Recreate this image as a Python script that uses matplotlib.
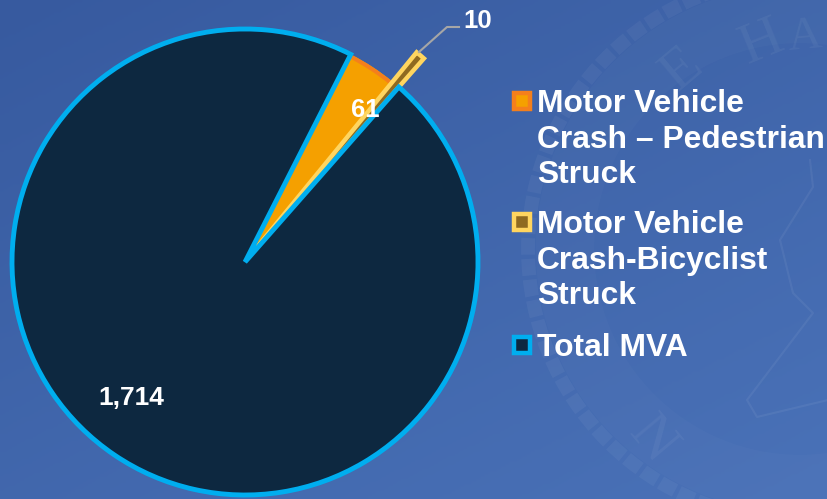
import numpy as np
from matplotlib import pyplot as plt
from matplotlib.colors import LinearSegmentedColormap
from matplotlib.patches import Circle, Rectangle

plt.rcParams["font.family"] = ["Liberation Sans", "DejaVu Sans"]

labels = ["Motor Vehicle\nCrash – Pedestrian\nStruck", "Motor Vehicle\nCrash-Bicyclist\nStruck", "Total MVA"]
values = [61, 10, 1714]
value_labels = ["61", "10", "1,714"]
fills = ["#f5a000", "#8f6a20", "#0d2840"]
edges = ["#f47f1c", "#ffd55f", "#00aeef"]


def main():
    fig = plt.figure(figsize=(8.28, 4.99), dpi=100)
    ax = fig.add_axes([0, 0, 1, 1])

    # background gradient, darker in the top left
    yy, xx = np.mgrid[0:1:200j, 0:1:200j]
    cmap = LinearSegmentedColormap.from_list("bg", ["#375a9f", "#4a72b8"])
    ax.imshow(0.45 * xx + 0.55 * yy, cmap=cmap, extent=(0, 828, 0, 499), origin="upper",
              aspect="auto", vmin=0, vmax=1, zorder=0)

    # faint seal behind the legend
    ax.add_patch(Circle((800, 250), 272, fill=False, ec="white", alpha=0.045, lw=10,
                        linestyle=(0, (1.2, 0.3)), zorder=1))
    ax.add_patch(Circle((800, 250), 235, fill=False, ec="white", alpha=0.02, lw=42, zorder=1))
    seal_font = {"family": "Liberation Serif", "color": "white", "alpha": 0.05,
                 "ha": "center", "va": "center", "zorder": 1}
    ax.text(682, 429, "E", rotation=40, fontsize=42, **seal_font)
    ax.text(762, 456, "H", rotation=22, fontsize=42, **seal_font)
    ax.text(805, 462, "A", rotation=5, fontsize=34, **seal_font)
    ax.text(652, 59, "N", rotation=-50, fontsize=42, **seal_font)
    ax.plot([810, 813, 780, 793, 813, 747, 757, 828], [339, 312, 259, 206, 186, 99, 82, 99],
            color="white", alpha=0.06, lw=1.5, zorder=1)

    wedges, _ = ax.pie(values, colors=fills, startangle=63, counterclock=False,
                       center=(245, 237), radius=233, frame=True,
                       wedgeprops={"linewidth": 3.5, "joinstyle": "miter"})
    for wedge, edge in zip(wedges, edges):
        wedge.set_edgecolor(edge)
    wedges[0].set_linewidth(0)
    wedges[0].set_zorder(2)
    # orange only shows on the outer rim
    rim = ax.pie([values[0], sum(values) - values[0]], colors=["none", "none"], startangle=63,
                 counterclock=False, center=(245, 237), radius=233, frame=True,
                 wedgeprops={"linewidth": 0})[0][0]
    rim.set_width(4)
    rim.set_facecolor(edges[0])
    rim.set_zorder(2.5)
    # bicyclist slice sticks out past the pie, under the total slice
    wedges[1].set_radius(271)
    wedges[1].set_linewidth(3.2)
    wedges[1].set_zorder(3)
    wedges[2].set_zorder(4)

    ax.set_xlim(0, 828)
    ax.set_ylim(0, 499)
    ax.set_aspect("auto")
    ax.axis("off")

    ax.plot([419, 447, 459], [447, 472, 472], color="#a6a6a6", lw=1.5, zorder=3)
    ax.text(365, 389, value_labels[0], color="white", fontsize=18.5, fontweight="bold",
            ha="center", va="center", zorder=6)
    ax.text(478, 478, value_labels[1], color="white", fontsize=18.5, fontweight="bold",
            ha="center", va="center", zorder=6)
    ax.text(131, 101, value_labels[2], color="white", fontsize=19, fontweight="bold",
            ha="center", va="center", zorder=6)

    # legend by hand, keys sit on the first line of each entry
    key_y = [398, 277, 154]
    for label, fill, edge, y in zip(labels, fills, edges, key_y):
        ax.add_patch(Rectangle((514, y - 8), 16, 16, fc=fill, ec=edge, lw=3.2, zorder=5))
        ax.text(537, y + 12, label, color="white", fontsize=22.9, fontweight="bold",
                ha="left", va="top", linespacing=1.24, zorder=6)
    fig.savefig("out.png", dpi=100)


if __name__ == "__main__":
    main()
